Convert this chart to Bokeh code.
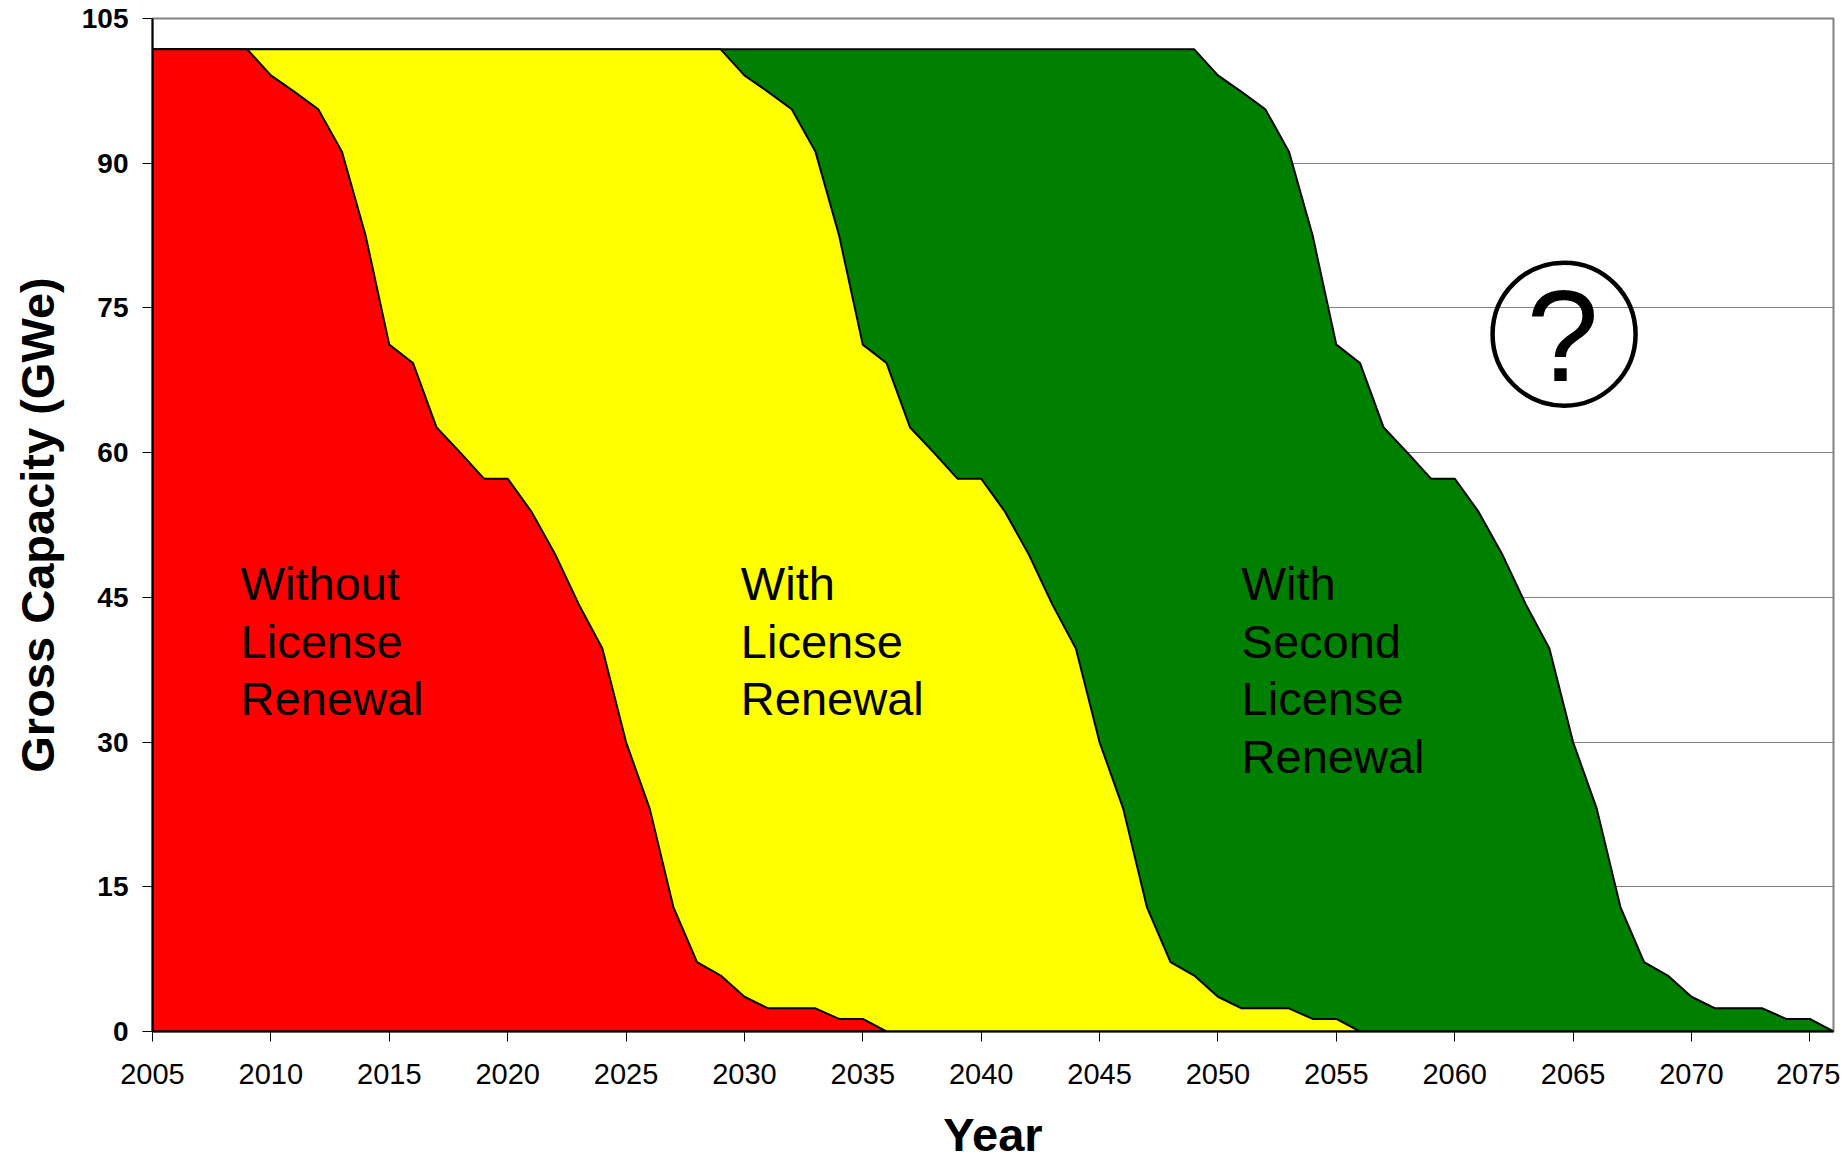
from bokeh.plotting import figure
from bokeh.models import Range1d, FixedTicker
from bokeh.embed import file_html
from bokeh.resources import INLINE
from bokeh.core.properties import value

# ---------------- data ----------------
years_without = list(range(2005, 2037))
capacity_without = [
    101.8, 101.8, 101.8, 101.8, 101.8,            # 2005-2009
    99.1, 97.4, 95.6, 91.2, 82.5,                 # 2010-2014
    71.2, 69.3, 62.6, 60.0, 57.3,                 # 2015-2019
    57.3, 53.9, 49.5, 44.3, 39.7,                 # 2020-2024
    30.0, 23.1, 12.9, 7.2, 5.8,                   # 2025-2029
    3.6, 2.4, 2.4, 2.4, 1.3, 1.3, 0.0,            # 2030-2036
]

years_with = list(range(2005, 2057))
capacity_with = [
    101.8, 101.8, 101.8, 101.8, 101.8,            # 2005-2009
    101.8, 101.8, 101.8, 101.8, 101.8,            # 2010-2014
    101.8, 101.8, 101.8, 101.8, 101.8,            # 2015-2019
    101.8, 101.8, 101.8, 101.8, 101.8,            # 2020-2024
    101.8, 101.8, 101.8, 101.8, 101.8,            # 2025-2029
    99.1, 97.4, 95.6, 91.2, 82.5,                 # 2030-2034
    71.2, 69.3, 62.6, 60.0, 57.3,                 # 2035-2039
    57.3, 53.9, 49.5, 44.3, 39.7,                 # 2040-2044
    30.0, 23.1, 12.9, 7.2, 5.8,                   # 2045-2049
    3.6, 2.4, 2.4, 2.4, 1.3, 1.3, 0.0,            # 2050-2056
]

years_second = list(range(2005, 2077))
capacity_second = [
    101.8, 101.8, 101.8, 101.8, 101.8,            # 2005-2009
    101.8, 101.8, 101.8, 101.8, 101.8,            # 2010-2014
    101.8, 101.8, 101.8, 101.8, 101.8,            # 2015-2019
    101.8, 101.8, 101.8, 101.8, 101.8,            # 2020-2024
    101.8, 101.8, 101.8, 101.8, 101.8,            # 2025-2029
    101.8, 101.8, 101.8, 101.8, 101.8,            # 2030-2034
    101.8, 101.8, 101.8, 101.8, 101.8,            # 2035-2039
    101.8, 101.8, 101.8, 101.8, 101.8,            # 2040-2044
    101.8, 101.8, 101.8, 101.8, 101.8,            # 2045-2049
    99.1, 97.4, 95.6, 91.2, 82.5,                 # 2050-2054
    71.2, 69.3, 62.6, 60.0, 57.3,                 # 2055-2059
    57.3, 53.9, 49.5, 44.3, 39.7,                 # 2060-2064
    30.0, 23.1, 12.9, 7.2, 5.8,                   # 2065-2069
    3.6, 2.4, 2.4, 2.4, 1.3, 1.3, 0.0,            # 2070-2076
]

x_ticks = [2005, 2010, 2015, 2020, 2025, 2030, 2035, 2040, 2045, 2050,
           2055, 2060, 2065, 2070, 2075]
y_ticks = [0, 15, 30, 45, 60, 75, 90, 105]

label_without = ["Without", "License", "Renewal"]
label_with = ["With", "License", "Renewal"]
label_second = ["With", "Second", "License", "Renewal"]

FONT = "Liberation Sans"

# ---------------- figure ----------------
p = figure(
    width=1840, height=1164,
    min_border_left=152, min_border_top=18, min_border_right=7, min_border_bottom=133,
    x_range=Range1d(2005, 2076), y_range=Range1d(0, 105),
    output_backend="svg", toolbar_location=None,
    background_fill_color="white", border_fill_color="white",
)

p.outline_line_color = "#808080"
p.outline_line_width = 2

# grid
p.xgrid.visible = False
p.ygrid.ticker = FixedTicker(ticks=y_ticks)
p.ygrid.grid_line_color = "#808080"
p.ygrid.grid_line_width = 1

# axes
p.xaxis.ticker = FixedTicker(ticks=x_ticks)
p.yaxis.ticker = FixedTicker(ticks=y_ticks)
for ax in (p.xaxis[0], p.yaxis[0]):
    ax.axis_line_color = "black"
    ax.axis_line_width = 2
    ax.major_tick_line_color = "black"
    ax.major_tick_line_width = 1
    ax.major_tick_out = 10
    ax.major_tick_in = 0
    ax.minor_tick_line_color = None
    ax.major_label_text_font = FONT
    ax.major_label_text_color = "black"
    ax.axis_label_text_font = FONT
    ax.axis_label_text_font_style = "bold"
    ax.axis_label_text_color = "black"
    ax.axis_label_text_font_size = "47px"

p.xaxis.major_label_text_font_size = "29px"
p.xaxis.major_label_standoff = 22
p.xaxis.axis_label = "Year"
p.xaxis.axis_label_standoff = 21

p.yaxis.major_label_text_font_size = "28px"
p.yaxis.major_label_text_font_style = "bold"
p.yaxis.major_label_standoff = 14
p.yaxis.axis_label = "Gross Capacity (GWe)"
p.yaxis.axis_label_standoff = 15

# areas (drawn back to front)
def area(xs, ys, color):
    px = list(xs) + [xs[-1], xs[0]]
    py = list(ys) + [0, 0]
    p.patch(px, py, fill_color=color, line_color="black", line_width=2)

area(years_second, capacity_second, "#008000")
area(years_with, capacity_with, "#FFFF00")
area(years_without, capacity_without, "#FF0000")

# annotations (line centres)
line_y = [46.4, 40.46, 34.47, 28.51]
for x0, lines in ((2008.72, label_without), (2029.85, label_with), (2051.0, label_second)):
    p.text(x=[x0] * len(lines), y=line_y[:len(lines)], text=lines,
           text_font=value(FONT), text_font_size="47px", text_color="black",
           text_align="left", text_baseline="middle")

# question mark in a circle
p.scatter(x=[2064.62], y=[72.28], size=143, marker="circle",
          fill_alpha=0, line_color="black", line_width=4.5)
p.text(x=[2064.56], y=[72.1], text=["?"], text_font=value(FONT),
       text_font_size="130px", text_color="black",
       text_align="center", text_baseline="middle")

open("out.html", "w").write(file_html(p, INLINE))
